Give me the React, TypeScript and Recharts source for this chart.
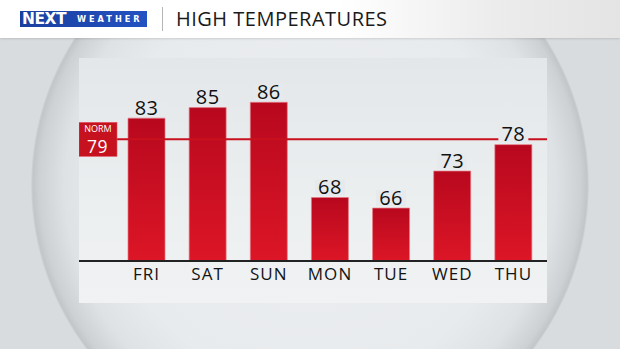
import React from 'react';
import { BarChart, Bar, XAxis, YAxis, ReferenceLine, LabelList } from 'recharts';

const days = ['FRI', 'SAT', 'SUN', 'MON', 'TUE', 'WED', 'THU'];
const highs = [83, 85, 86, 68, 66, 73, 78];
const normalHigh = 79;
const yDomain: [number, number] = [56, 94];
const title = 'HIGH TEMPERATURES';

const data = days.map((d, i) => ({ day: d, high: highs[i] }));

const FONT = '"Open Sans", "Noto Sans", sans-serif';

const ValueLabel = (props: any) => {
  const { x, y, width, value } = props;
  const cx = x + width / 2;
  return (
    <g>
      <rect x={cx - 15} y={y - 18} width={30} height={16} fill="#e7eaec" />
      <text x={cx} y={y - 3.5} textAnchor="middle" fontFamily={FONT} fontSize={20} fontWeight={500} letterSpacing={0.4} fill="#111">
        {value}
      </text>
    </g>
  );
};

const DayTick = (props: any) => {
  const { x, y, payload } = props;
  return (
    <text x={x} y={y + 11} textAnchor="middle" fontFamily={FONT} fontSize={17} fontWeight={500} letterSpacing={1.1} fill="#141414">
      {payload.value}
    </text>
  );
};

const NormLabel = (props: any) => {
  const vb = props.viewBox || {};
  const right = vb.x;
  const cy = vb.y;
  const left = right - 37;
  return (
    <g>
      <rect x={left} y={cy - 17} width={38} height={34} fill="#c6111f" stroke="#e25561" strokeWidth={0.6} />
      <text x={left + 19} y={cy - 7.5} textAnchor="middle" fontFamily={FONT} fontSize={9} fontWeight={500} fill="#fff">
        NORM
      </text>
      <text x={left + 18.5} y={cy + 14} textAnchor="middle" fontFamily={FONT} fontSize={17.5} fontWeight={500} letterSpacing={0.5} fill="#fff">
        {normalHigh}
      </text>
    </g>
  );
};

const NormLine = (props: any) => {
  const { x1, x2, y1 } = props;
  return <line x1={x1} x2={x2 + 3} y1={y1} y2={y1} stroke="#c8101e" strokeWidth={2} />;
};

const BaseLine = (props: any) => {
  const { x1, x2, y1 } = props;
  return <line x1={x1 - 38} x2={x2 + 3} y1={y1} y2={y1} stroke="#222" strokeWidth={2} />;
};

export default function App() {
  return (
    <div
      style={{
        position: 'absolute',
        left: 0,
        top: 0,
        width: 620,
        height: 349,
        overflow: 'hidden',
        background: '#d8dcde',
      }}
    >
      {/* bowl */}
      <div
        style={{
          position: 'absolute',
          left: 31,
          top: -90,
          width: 558,
          height: 550,
          borderRadius: '50%',
          background:
            'radial-gradient(closest-side, #eceef0 0%, #e8ebed 72%, #dfe2e4 88%, #cdd1d4 97%, #c2c6c9 99.3%, #d3d7da 100%)',
        }}
      />
      {/* header */}
      <div
        style={{
          position: 'absolute',
          left: 0,
          top: 0,
          width: 620,
          height: 38,
          background: 'linear-gradient(90deg, #ffffff 0%, #ffffff 55%, #ececec 80%, #e4e4e4 100%)',
          boxShadow: '0 1px 2px rgba(0,0,0,0.12)',
        }}
      >
        <div
          style={{
            position: 'absolute',
            left: 20,
            top: 11,
            width: 127,
            height: 16,
            background: 'linear-gradient(90deg, #1a3f9e 0%, #2352c2 100%)',
          }}
        >
          <span
            style={{
              position: 'absolute',
              left: 2,
              top: -2,
              fontFamily: '"DejaVu Sans", sans-serif',
              fontWeight: 700,
              fontSize: 15.5,
              color: '#fff',
              letterSpacing: -0.5,
              lineHeight: '20px',
            }}
          >
            NEXT
          </span>
          <span
            style={{
              position: 'absolute',
              left: 57,
              top: 0,
              fontFamily: '"DejaVu Sans", sans-serif',
              fontWeight: 700,
              fontSize: 8.2,
              color: '#fff',
              letterSpacing: 3,
              lineHeight: '16px',
            }}
          >
            WEATHER
          </span>
        </div>
        <div style={{ position: 'absolute', left: 162, top: 7, width: 1, height: 24, background: '#b5b5b5' }} />
        <div
          style={{
            position: 'absolute',
            left: 176,
            top: 4,
            fontFamily: FONT,
            fontSize: 20,
            fontWeight: 500,
            color: '#1a1a1a',
            letterSpacing: 0.5,
            lineHeight: '30px',
            whiteSpace: 'nowrap',
          }}
        >
          {title}
        </div>
      </div>
      {/* panel */}
      <div
        style={{
          position: 'absolute',
          left: 79,
          top: 58,
          width: 468,
          height: 245,
          background: 'linear-gradient(180deg, #e3e7e9 0%, #eceff0 60%, #f0f2f3 100%)',
        }}
      >
        <BarChart
          width={468}
          height={245}
          data={data}
          margin={{ top: 2, right: 3, bottom: 12, left: 37 }}
        >
          <defs>
            <linearGradient id="barGrad" x1="0" y1="0" x2="0" y2="1">
              <stop offset="0%" stopColor="#b8081e" />
              <stop offset="100%" stopColor="#dc1626" />
            </linearGradient>
          </defs>
          <XAxis
            dataKey="day"
            axisLine={false}
            tickLine={false}
            height={30}
            tick={<DayTick />}
            interval={0}
          />
          <YAxis type="number" domain={yDomain} hide allowDataOverflow />
          <ReferenceLine y={normalHigh} shape={<NormLine />} label={<NormLabel />} />
          <Bar
            dataKey="high"
            barSize={37}
            fill="url(#barGrad)"
            stroke="#e57a84"
            strokeWidth={0.7}
            isAnimationActive={false}
          >
            <LabelList dataKey="high" content={<ValueLabel />} />
          </Bar>
          <ReferenceLine y={yDomain[0]} shape={<BaseLine />} />
        </BarChart>
      </div>
    </div>
  );
}
